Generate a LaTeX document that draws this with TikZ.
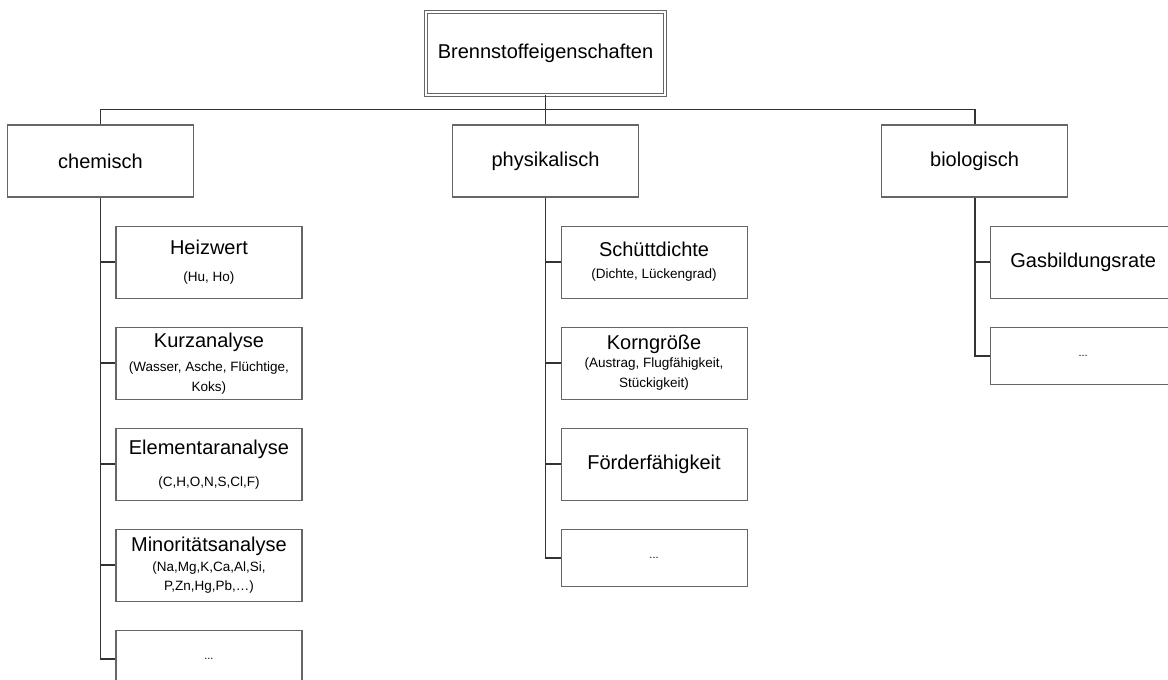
\documentclass[tikz,border=0pt]{standalone}
\usepackage{fontspec}
\setmainfont{Liberation Sans}
\usetikzlibrary{positioning}

\newcommand{\smalltxt}{\fontsize{13.5}{19}\selectfont}

\begin{document}
\begin{tikzpicture}[
  x=1pt, y=-1pt,
  node distance=28pt,
  font=\fontsize{20}{24}\selectfont,
  box/.style={draw=black!60, line width=1.1pt, align=center, inner sep=2pt,
              minimum width=186pt},
  head/.style={box, minimum height=72pt},
  prop/.style={box, minimum height=72pt},
  more/.style={box, minimum height=57pt, font=\fontsize{11}{13}\selectfont},
  root/.style={box, double, double distance=2pt, line width=0.8pt,
               minimum width=239pt, minimum height=83pt},
  link/.style={draw=black!80, line width=1.8pt},
]
\path[use as bounding box] (0,0) rectangle (1168,680);
\clip (0,0) rectangle (1168,680);

\node[root] (fuel) at (545.5,53.5) {Brennstoffeigenschaften};
\node[head, below=29pt of fuel] (phys) {physikalisch};
\node[head, left=258pt of phys] (chem) {chemisch};
\node[head, right=242pt of phys] (bio) {biologisch};

% chemisch
\node[prop, below=28pt of chem.south, anchor=north west, xshift=15pt] (heiz)
  {Heizwert\\[3pt]\smalltxt (Hu, Ho)};
\node[prop, below=of heiz] (kurz)
  {Kurzanalyse\\[0pt]\smalltxt (Wasser, Asche, Flüchtige,\\[-4pt]\smalltxt Koks)};
\node[prop, below=of kurz] (elem)
  {Elementaranalyse\\[8pt]\smalltxt (C,H,O,N,S,Cl,F)};
\node[prop, below=of elem] (mino)
  {Minoritätsanalyse\\[-4pt]\smalltxt (Na,Mg,K,Ca,Al,Si,\\[-5pt]\smalltxt P,Zn,Hg,Pb,…)};
\node[more, below=of mino] (chemmore) {...};

% physikalisch
\node[prop, below=28pt of phys.south, anchor=north west, xshift=15pt] (schuett)
  {Schüttdichte\\[-2pt]\smalltxt (Dichte, Lückengrad)};
\node[prop, below=of schuett] (korn)
  {Korngröße\\[-6pt]\smalltxt (Austrag, Flugfähigkeit,\\[-4pt]\smalltxt Stückigkeit)};
\node[prop, below=of korn] (foerder) {Förderfähigkeit};
\node[more, below=of foerder] (physmore) {...};

% biologisch
\node[prop, below=28pt of bio.south, anchor=north west, xshift=15pt] (gas)
  {Gasbildungsrate};
\node[more, below=of gas] (biomore) {...};

% connectors
\draw[link] (fuel.south) -- (phys.north);
\draw[link] (chem.north) -- ++(0pt,15pt) -| (bio.north);
\draw[link] (chem.south) |- (chemmore.west);
\draw[link] (phys.south) |- (physmore.west);
\draw[link] (bio.south) |- (biomore.west);
\foreach \p/\c in {chem/heiz, chem/kurz, chem/elem, chem/mino,
                   phys/schuett, phys/korn, phys/foerder, bio/gas}
  \draw[link] (\p.south |- \c.west) -- (\c.west);
\end{tikzpicture}
\end{document}
